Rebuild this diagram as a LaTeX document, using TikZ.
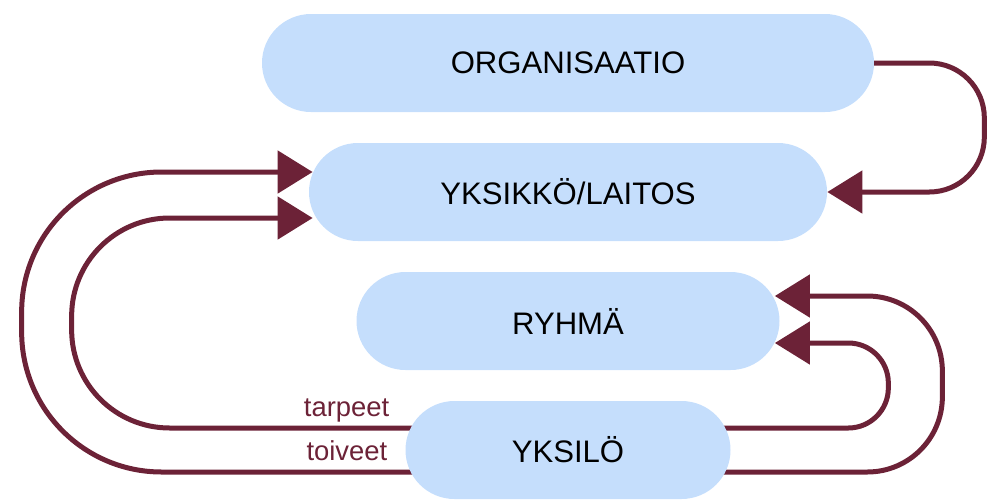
\documentclass[tikz,border=0pt]{standalone}
\usepackage{fontspec}
\setmainfont{Liberation Sans}
\usepackage{tikz}
\usetikzlibrary{arrows.meta,positioning,backgrounds}
\definecolor{boxblue}{HTML}{C5DEFC}
\definecolor{wine}{HTML}{6C2237}
\tikzstyle{CAPSULE} = [rectangle, fill=boxblue, rounded corners=0.98cm, minimum height=1.96cm, text centered, font=\fontsize{17.7}{20}\selectfont]
\tikzstyle{LOOP} = [draw=wine, line width=0.1cm, -{Triangle[length=0.7cm,width=0.84cm]}]
\tikzstyle{LABEL} = [text=wine, inner sep=0pt, font=\fontsize{15.6}{18}\selectfont]

\begin{document}
\begin{tikzpicture}[node distance = 2.58cm]
\useasboundingbox (0,0) rectangle (19.76,-9.98);
% Place nodes
\node [CAPSULE, minimum width=12.24cm] (org) at (11.36,-1.26) {ORGANISAATIO};
\node [CAPSULE, minimum width=10.36cm, below of=org] (unit) {YKSIKKÖ/LAITOS};
\node [CAPSULE, minimum width=8.46cm, below of=unit] (group) {RYHMÄ};
\node [CAPSULE, minimum width=6.5cm, below of=group] (indiv) {YKSILÖ};
\node [LABEL, anchor=base east] (needs) at ([xshift=-.31cm,yshift=.68cm]indiv.west) {tarpeet};
\node [LABEL, anchor=base east] (wishes) at ([xshift=-.35cm,yshift=-.2cm]indiv.west) {toiveet};
% LOOPS and ARROWS (behind the boxes)
\begin{scope}[on background layer]
\path [LOOP, rounded corners=1.1cm] ([xshift=-.2cm]org.east) -- ++(2.4,0) |- (unit.east);
\path [LOOP, rounded corners=2.8cm] ([xshift=.2cm,yshift=-.44cm]indiv.west) -- ++(-7.87,0) |- ([xshift=.08cm,yshift=.4cm]unit.west);
\path [LOOP, rounded corners=1.96cm] ([xshift=.2cm,yshift=.44cm]indiv.west) -- ++(-6.87,0) |- ([xshift=.08cm,yshift=-.52cm]unit.west);
\path [LOOP, rounded corners=0.8cm] ([xshift=-.2cm,yshift=.44cm]indiv.east) -- ++(3.35,0) |- ([xshift=-.1cm,yshift=-.44cm]group.east);
\path [LOOP, rounded corners=1.5cm] ([xshift=-.2cm,yshift=-.44cm]indiv.east) -- ++(4.43,0) |- ([xshift=-.1cm,yshift=.5cm]group.east);
\end{scope}
\end{tikzpicture}
\end{document}
